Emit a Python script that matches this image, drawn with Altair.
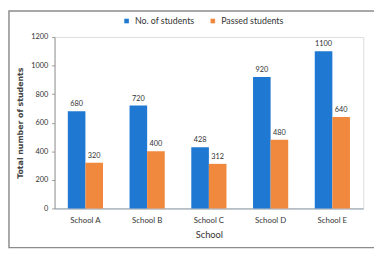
import altair as alt
import pandas as pd

schools = ["School A", "School B", "School C", "School D", "School E"]
total_students = [680, 720, 428, 920, 1100]
passed_students = [320, 400, 312, 480, 640]
series_names = ["No. of students", "Passed students"]
y_ticks = [0, 200, 400, 600, 800, 1000, 1200]

rows = []
for s, t, p in zip(schools, total_students, passed_students):
    rows.append({"School": s, "Series": series_names[0], "Value": t})
    rows.append({"School": s, "Series": series_names[1], "Value": p})
df = pd.DataFrame(rows)

FONT = "Lato"
colors = ["#1f78d1", "#f0883d"]

base = alt.Chart(df).encode(
    x=alt.X("School:N", sort=schools,
            scale=alt.Scale(paddingInner=0.43, paddingOuter=0.215),
            axis=alt.Axis(title="School", labelAngle=0, labelFontSize=8,
                          labelColor="#333", titleFontSize=9.5, titleFontWeight="normal",
                          titleColor="#333", labelPadding=8, titlePadding=6,
                          domainColor="#8a9aa8", ticks=False, labelFont=FONT, titleFont=FONT)),
    xOffset=alt.XOffset("Series:N", sort=series_names),
    y=alt.Y("Value:Q", scale=alt.Scale(domain=[0, 1200]),
            axis=alt.Axis(title="Total number of students", values=y_ticks, grid=False,
                          format="d", labelOverlap=False, tickCount=7,
                          labelFontSize=7.5, labelColor="#333", tickSize=3, tickColor="#999",
                          domainColor="#999", titleFontSize=8, titleFontWeight="bold",
                          titleColor="#444", titlePadding=6, labelPadding=4,
                          labelFont=FONT, titleFont="DejaVu Sans")),
)

bars = base.mark_bar().encode(
    color=alt.Color("Series:N", sort=series_names,
                    scale=alt.Scale(domain=series_names, range=colors),
                    legend=alt.Legend(title=None, orient="none", direction="horizontal",
                                      legendX=69, legendY=-21, symbolType="square",
                                      symbolSize=22, labelFontSize=9, labelColor="#333",
                                      columnPadding=14, labelFont=FONT, symbolStrokeWidth=0)),
)

labels = base.mark_text(dy=-7, fontSize=7.5, color="#333", font=FONT).encode(
    text=alt.Text("Value:Q"),
)

frame = alt.Chart(pd.DataFrame({"a": [0]})).mark_rect(
    fill=None, stroke="#8c8c8c", strokeWidth=1.5
).encode(x=alt.value(-46.5), x2=alt.value(340), y=alt.value(-26.5), y2=alt.value(215))

chart = alt.layer(frame, bars, labels).properties(
    width=315, height=175,
    autosize=alt.AutoSizeParams(type="none"),
    padding={"left": 47.5, "top": 27, "right": 11, "bottom": 46},
).configure_view(stroke=None).configure(background="white")

chart.save("out.html", embed_options={"renderer": "svg", "actions": False})
